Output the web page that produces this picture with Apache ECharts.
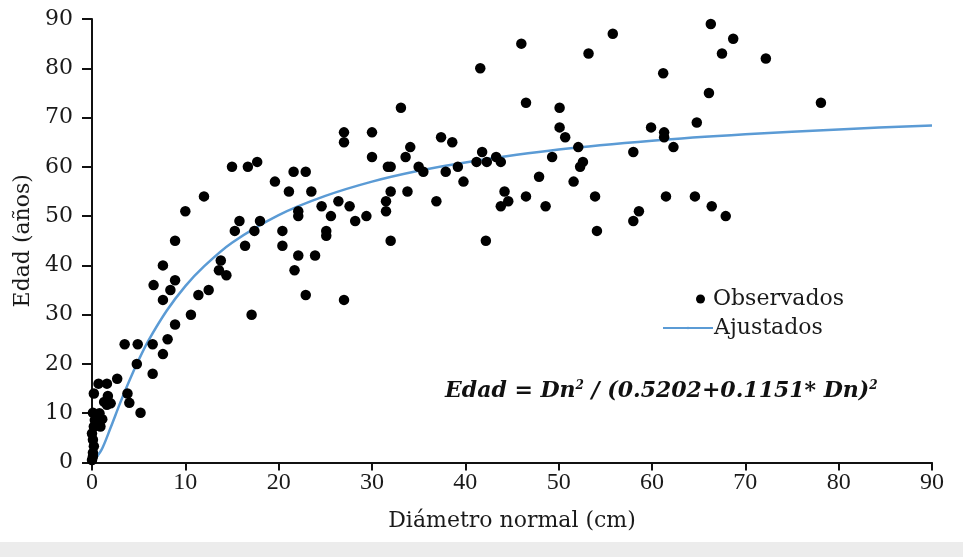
<!DOCTYPE html>
<html>
<head>
<meta charset="utf-8">
<script src="https://cdn.jsdelivr.net/npm/echarts@6/dist/echarts.min.js"></script>
<style>
  html, body { margin: 0; padding: 0; background: #fff; }
  #chart { width: 963px; height: 557px; }
</style>
</head>
<body>
<div id="chart"></div>
<script>
// Observados: [diámetro (cm), edad (años)]
var observados = [
  [0, 0.5], [0.1, 1.2], [0.1, 2.0], [0.2, 3.3], [0.1, 4.6], [0, 5.9], [0.2, 7.3],
  [0.3, 8.6], [0.1, 10.1], [0.2, 14], [0.8, 10], [1.1, 8.8], [0.9, 7.3],
  [1.3, 12.3], [2.0, 12.0], [1.6, 11.7], [1.7, 13.5], [0.7, 16], [1.6, 16],
  [2.7, 17], [3.8, 14], [4.0, 12.1], [5.2, 10.1], [3.5, 24], [4.9, 24], [6.5, 24],
  [8.1, 25], [7.6, 22], [4.8, 20], [6.5, 18], [8.9, 28],
  [12, 54], [10, 51], [15.8, 49], [18, 49], [15.3, 47], [17.4, 47], [8.9, 45],
  [16.4, 44], [13.8, 41], [7.6, 40], [13.6, 39], [14.4, 38], [8.9, 37], [6.6, 36],
  [8.4, 35], [12.5, 35], [11.4, 34], [7.6, 33], [10.6, 30], [17.1, 30],
  [27, 65], [27, 67], [30, 67], [30, 62], [31.7, 60], [15, 60], [16.7, 60],
  [17.7, 61], [21.6, 59], [22.9, 59], [19.6, 57], [21.1, 55], [23.5, 55],
  [26.4, 53], [24.6, 52], [27.6, 52], [22.1, 51], [22.1, 50], [25.6, 50],
  [29.4, 50], [28.2, 49], [31.5, 53], [31.5, 51], [20.4, 47], [25.1, 47],
  [25.1, 46], [20.4, 44], [22.1, 42], [23.9, 42], [21.7, 39], [22.9, 34], [27, 33],
  [46, 85], [41.6, 80], [46.5, 73], [33.1, 72], [50.1, 72], [50.1, 68], [50.7, 66],
  [37.4, 66], [38.6, 65], [34.1, 64], [33.6, 62], [52.1, 64], [32, 60], [35, 60],
  [35.5, 59], [41.8, 63], [43.3, 62], [41.2, 61], [42.3, 61], [43.8, 61],
  [39.2, 60], [37.9, 59], [49.3, 62], [52.3, 60], [39.8, 57], [47.9, 58],
  [51.6, 57], [32, 55], [33.8, 55], [36.9, 53], [44.2, 55], [44.6, 53],
  [43.8, 52], [46.5, 54], [48.6, 52], [32, 45], [42.2, 45],
  [66.3, 89], [55.8, 87], [68.7, 86], [53.2, 83], [67.5, 83], [72.2, 82],
  [61.2, 79], [66.1, 75], [64.8, 69], [59.9, 68], [61.3, 67], [61.3, 66],
  [62.3, 64], [58, 63], [52.6, 61], [53.9, 54], [61.5, 54], [64.6, 54],
  [66.4, 52], [67.9, 50], [58.6, 51], [58, 49], [54.1, 47], [78.1, 73]
];

// Ajustados: curva
var ajusteX = [0, 1, 2, 3, 4, 5, 6, 8, 10, 12, 15, 20, 25, 30, 35, 40, 50, 60, 70, 80, 90];
var ajusteY = [0, 2.5, 7.1, 12, 16.6, 20.8, 24.6, 30.8, 35.8, 39.8, 44.6, 50.2, 54.1, 57, 59.2, 60.9, 63.5, 65.3, 66.6, 67.6, 68.4];

var xTicks = [0, 10, 20, 30, 40, 50, 60, 70, 80, 90];
var yTicks = [0, 10, 20, 30, 40, 50, 60, 70, 80, 90];

var ajustados = ajusteX.map(function (x, i) {
  return [x, ajusteY[i]];
});

var myChart = echarts.init(document.getElementById("chart"));

var option = {
  backgroundColor: "#fff",
  animation: false,
  grid: {
    left: 92,
    right: 31,
    top: 19,
    bottom: 94.5,
  },
  legend: [
    {
      data: ["Observados"],
      left: 691,
      top: 283,
      itemWidth: 9,
      itemHeight: 9,
      itemGap: 0,
      textStyle: {
        color: "#1a1a1a",
        fontFamily: "DejaVu Serif",
        fontSize: 22,
        padding: [0, 0, 0, 3],
      },
    },
    {
      data: ["Ajustados"],
      left: 657,
      top: 312,
      itemWidth: 50,
      itemHeight: 3,
      textStyle: {
        color: "#1a1a1a",
        fontFamily: "DejaVu Serif",
        fontSize: 22,
        padding: [0, 0, 0, -4],
      },
    },
  ],
  xAxis: {
    type: "value",
    min: xTicks[0],
    max: xTicks[xTicks.length - 1],
    interval: 10,
    name: "Diámetro normal (cm)",
    nameLocation: "middle",
    nameGap: 48,
    nameTextStyle: {
      color: "#1a1a1a",
      fontFamily: "DejaVu Serif",
      fontSize: 22,
    },
    axisLine: { show: true, lineStyle: { color: "#111", width: 2 } },
    axisTick: { show: true, length: 8, lineStyle: { color: "#111", width: 2 } },
    axisLabel: {
      color: "#1a1a1a",
      fontFamily: "Liberation Serif",
      fontSize: 24,
      margin: 8,
    },
    splitLine: { show: false },
  },
  yAxis: {
    type: "value",
    min: yTicks[0],
    max: yTicks[yTicks.length - 1],
    interval: 10,
    name: "Edad (años)",
    nameLocation: "middle",
    nameRotate: 90,
    nameGap: 58,
    nameTextStyle: {
      color: "#1a1a1a",
      fontFamily: "DejaVu Serif",
      fontSize: 22,
    },
    axisLine: { show: true, lineStyle: { color: "#111", width: 2 } },
    axisTick: { show: true, length: 10, lineStyle: { color: "#111", width: 2 } },
    axisLabel: {
      color: "#1a1a1a",
      fontFamily: "DejaVu Serif",
      fontSize: 22,
      margin: 19,
    },
    splitLine: { show: false },
  },
  graphic: [
    {
      type: "rect",
      left: 0,
      top: 542,
      shape: { width: 963, height: 15 },
      style: { fill: "#ececec" },
      silent: true,
    },
    {
      type: "text",
      left: 445,
      top: 380,
      style: {
        text: "{b|Edad = Dn}{s|2}{b| / (0.5202+0.1151* Dn)}{s|2}",
        rich: {
          b: {
            fontFamily: "DejaVu Serif",
            fontStyle: "italic",
            fontWeight: "bold",
            fontSize: 22,
            fill: "#111",
            verticalAlign: "bottom",
          },
          s: {
            fontFamily: "DejaVu Serif",
            fontStyle: "italic",
            fontWeight: "bold",
            fontSize: 12,
            fill: "#111",
            verticalAlign: "top",
          },
        },
      },
    },
  ],
  series: [
    {
      name: "Observados",
      type: "scatter",
      data: observados,
      symbol: "circle",
      symbolSize: 10.5,
      itemStyle: { color: "#000", opacity: 1 },
      z: 3,
    },
    {
      name: "Ajustados",
      type: "line",
      data: ajustados,
      smooth: 0.3,
      showSymbol: false,
      symbol: "none",
      lineStyle: { color: "#5b9bd5", width: 2.5 },
      itemStyle: { color: "#5b9bd5" },
      z: 2,
    },
  ],
};

myChart.setOption(option);
</script>
</body>
</html>
